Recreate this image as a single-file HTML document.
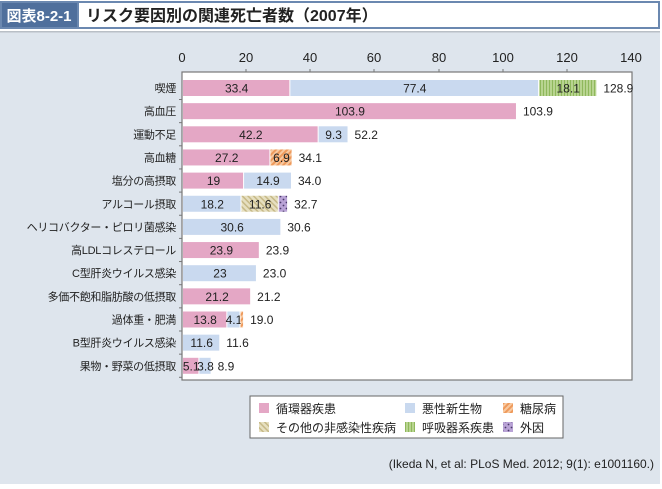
<!DOCTYPE html>
<html><head><meta charset="utf-8"><style>
body{margin:0;width:662px;height:484px;overflow:hidden;background:#fff;font-family:"Liberation Sans","Noto Sans CJK JP",sans-serif}
</style></head><body>
<svg width="662" height="484" xmlns="http://www.w3.org/2000/svg" font-family="Liberation Sans, Noto Sans CJK JP, sans-serif">
<defs>
<pattern id="or" width="4" height="4" patternUnits="userSpaceOnUse" patternTransform="rotate(45)"><rect width="4" height="4" fill="#f8c9a0"/><rect width="2" height="4" fill="#ee9a5c"/></pattern>
<pattern id="gr" width="3" height="4" patternUnits="userSpaceOnUse"><rect width="3" height="4" fill="#b8d490"/><rect width="1" height="4" fill="#8fb85c"/></pattern>
<pattern id="be" width="4" height="4" patternUnits="userSpaceOnUse" patternTransform="rotate(-45)"><rect width="4" height="4" fill="#e6dfc0"/><rect width="1.5" height="4" fill="#c6b987"/></pattern>
<pattern id="pu" width="6" height="6" patternUnits="userSpaceOnUse"><rect width="6" height="6" fill="#b9a3d6"/><circle cx="1.5" cy="1.5" r="0.9" fill="#4a3a6a"/><circle cx="4.5" cy="4.5" r="0.9" fill="#4a3a6a"/></pattern>
</defs>
<rect x="0" y="0" width="662" height="484" fill="#fff"/>
<rect x="0" y="1" width="660" height="28" fill="#6b88b0"/>
<rect x="2" y="3" width="75" height="24" fill="#4f6f9c"/>
<rect x="79" y="3" width="579" height="24" fill="#fff"/>
<text x="39" y="21" fill="#fff" font-size="15" font-weight="bold" text-anchor="middle">図表8-2-1</text>
<text x="86" y="21" fill="#222" font-size="16" font-weight="bold">リスク要因別の関連死亡者数（2007年）</text>
<rect x="0" y="31" width="660" height="453" fill="#dee5ed"/>
<rect x="0" y="31" width="660" height="1.5" fill="#b9bfc6"/>
<rect x="182" y="72" width="450" height="308" fill="#fff" stroke="#777" stroke-width="1.2"/>
<g font-size="13" fill="#222" text-anchor="middle">
<text x="182" y="62">0</text><text x="246" y="62">20</text><text x="310" y="62">40</text><text x="374" y="62">60</text><text x="439" y="62">80</text><text x="503" y="62">100</text><text x="567" y="62">120</text><text x="631" y="62">140</text>
</g>
<g stroke="#777" stroke-width="1">
<line x1="246" y1="69" x2="246" y2="72"/><line x1="310" y1="69" x2="310" y2="72"/><line x1="374" y1="69" x2="374" y2="72"/><line x1="439" y1="69" x2="439" y2="72"/><line x1="503" y1="69" x2="503" y2="72"/><line x1="567" y1="69" x2="567" y2="72"/>
</g>
<g id="bars" font-size="12" fill="#222"></g>
<g font-size="12" fill="#222">
<rect x="250" y="396" width="313" height="42" fill="#fff" stroke="#666"/>
<rect x="259" y="403" width="10" height="10" fill="#e4a7c5"/><text x="276" y="413">循環器疾患</text>
<rect x="405" y="403" width="10" height="10" fill="#c9d9ef"/><text x="422" y="413">悪性新生物</text>
<rect x="503" y="403" width="10" height="10" fill="url(#or)"/><text x="520" y="413">糖尿病</text>
<rect x="259" y="422" width="10" height="10" fill="url(#be)"/><text x="276" y="432">その他の非感染性疾病</text>
<rect x="405" y="422" width="10" height="10" fill="url(#gr)"/><text x="422" y="432">呼吸器系疾患</text>
<rect x="503" y="422" width="10" height="10" fill="url(#pu)"/><text x="520" y="432">外因</text>
<text x="654" y="468" text-anchor="end">(Ikeda N, et al: PLoS Med. 2012; 9(1): e1001160.)</text>
</g>
</svg>
<script>
const s=450/140,x0=182;
const fills={p:"#e4a7c5",b:"#c9d9ef",o:"url(#or)",g:"url(#gr)",e:"url(#be)",u:"url(#pu)"};
const rows=[
["喫煙",[["p",33.4,"33.4"],["b",77.4,"77.4"],["g",18.1,"18.1"]],"128.9"],
["高血圧",[["p",103.9,"103.9"]],"103.9"],
["運動不足",[["p",42.2,"42.2"],["b",9.3,"9.3"]],"52.2"],
["高血糖",[["p",27.2,"27.2"],["o",6.9,"6.9"]],"34.1"],
["塩分の高摂取",[["p",19,"19"],["b",14.9,"14.9"]],"34.0"],
["アルコール摂取",[["b",18.2,"18.2"],["e",11.6,"11.6"],["u",2.9,""]],"32.7"],
["ヘリコバクター・ピロリ菌感染",[["b",30.6,"30.6"]],"30.6"],
["高LDLコレステロール",[["p",23.9,"23.9"]],"23.9"],
["C型肝炎ウイルス感染",[["b",23,"23"]],"23.0"],
["多価不飽和脂肪酸の低摂取",[["p",21.2,"21.2"]],"21.2"],
["過体重・肥満",[["p",13.8,"13.8"],["b",4.1,"4.1"],["o",1.1,""]],"19.0"],
["B型肝炎ウイルス感染",[["b",11.6,"11.6"]],"11.6"],
["果物・野菜の低摂取",[["p",5.1,"5.1"],["b",3.8,"3.8"]],"8.9"]];
let h="";
rows.forEach((r,i)=>{const cy=88+i*23.15;let x=x0+1;
h+=`<line x1="179" y1="${cy+11.5}" x2="182" y2="${cy+11.5}" stroke="#777"/>`;
h+=`<text x="176" y="${cy+4}" text-anchor="end" font-size="11" letter-spacing="-0.3">${r[0]}</text>`;
r[1].forEach(sg=>{const w=sg[1]*s;h+=`<rect x="${x}" y="${cy-8}" width="${w-1}" height="16" fill="${fills[sg[0]]}"/>`;
if(sg[2])h+=`<text x="${x+w/2}" y="${cy+4.5}" text-anchor="middle">${sg[2]}</text>`;x+=w;});
h+=`<text x="${x+6}" y="${cy+4.5}">${r[2]}</text>`;});
document.getElementById("bars").innerHTML=h;
</script>
</body></html>
